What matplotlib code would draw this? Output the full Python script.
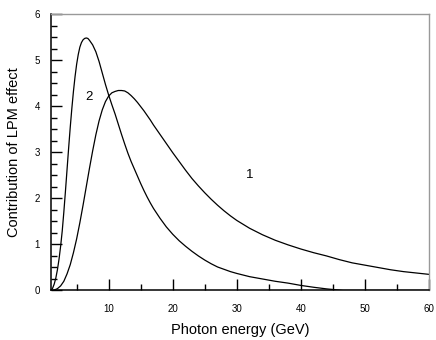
import matplotlib
matplotlib.use("Agg")
import matplotlib.pyplot as plt
from matplotlib.ticker import MultipleLocator

plt.rcParams['font.family'] = ['Liberation Sans', 'DejaVu Sans']

# Curve 1 (broad peak)
x1 = [1.0, 1.5, 2.0, 2.5, 3.0, 3.5, 4.0, 4.5, 5.0, 5.5, 6.0, 6.5, 7.0, 7.5, 8.0,
      8.5, 9.0, 9.5, 10.0, 10.5, 11.0, 11.5, 12.0, 12.5, 13.0, 13.5, 14.0, 14.5,
      15.0, 15.5, 16.0, 16.5, 17.0, 17.5, 18.0, 18.5, 19.0, 19.5, 20.0, 21.0,
      22.0, 23.0, 24.0, 25.0, 26.0, 27.0, 28.0, 29.0, 30.0, 32.0, 34.0, 36.0,
      38.0, 40.0, 42.0, 44.0, 46.0, 48.0, 50.0, 52.0, 54.0, 56.0, 58.0, 60.0]
y1 = [0.0, 0.01, 0.04, 0.10, 0.20, 0.36, 0.56, 0.82, 1.12, 1.47, 1.85, 2.25,
      2.65, 3.03, 3.38, 3.68, 3.92, 4.10, 4.22, 4.29, 4.32, 4.34, 4.34, 4.33,
      4.29, 4.23, 4.16, 4.08, 3.99, 3.90, 3.80, 3.70, 3.59, 3.49, 3.39, 3.29,
      3.19, 3.09, 2.99, 2.80, 2.61, 2.43, 2.27, 2.12, 1.98, 1.85, 1.73, 1.62,
      1.52, 1.35, 1.21, 1.09, 0.99, 0.90, 0.82, 0.75, 0.67, 0.60, 0.55, 0.50,
      0.45, 0.41, 0.38, 0.35]

# Curve 2 (sharp peak)
x2 = [1.0, 1.25, 1.5, 1.75, 2.0, 2.25, 2.5, 2.75, 3.0, 3.25, 3.5, 3.75, 4.0,
      4.25, 4.5, 4.75, 5.0, 5.25, 5.5, 5.75, 6.0, 6.25, 6.5, 6.75, 7.0, 7.5,
      8.0, 8.5, 9.0, 9.5, 10.0, 10.5, 11.0, 11.5, 12.0, 12.5, 13.0, 13.5, 14.0,
      14.5, 15.0, 15.5, 16.0, 16.5, 17.0, 18.0, 19.0, 20.0, 21.0, 22.0, 23.0,
      24.0, 25.0, 26.0, 27.0, 28.0, 29.0, 30.0, 32.0, 34.0, 36.0, 38.0, 40.0,
      42.0, 44.0, 46.6, 60.0]
y2 = [0.0, 0.05, 0.14, 0.27, 0.45, 0.68, 0.96, 1.29, 1.70, 2.15, 2.62, 3.09,
      3.54, 3.95, 4.32, 4.64, 4.91, 5.12, 5.28, 5.38, 5.44, 5.47, 5.48, 5.47,
      5.43, 5.33, 5.18, 4.97, 4.72, 4.47, 4.24, 4.03, 3.83, 3.61, 3.39, 3.18,
      2.98, 2.80, 2.64, 2.48, 2.32, 2.17, 2.03, 1.90, 1.78, 1.57, 1.38, 1.22,
      1.08, 0.96, 0.85, 0.75, 0.66, 0.58, 0.51, 0.46, 0.41, 0.37, 0.30, 0.25,
      0.20, 0.16, 0.11, 0.07, 0.035, 0.0, 0.0]

labels = ["1", "2"]
label_pos = [(32.0, 2.5), (7.0, 4.2)]

fig = plt.figure(figsize=(4.36, 3.40), dpi=100)
ax = fig.add_axes([0.117, 0.1456, 0.867, 0.8132])

ax.plot(x1, y1, color='black', lw=0.9, solid_joinstyle='round')
ax.plot(x2, y2, color='black', lw=0.9, solid_joinstyle='round')

for t, (lx, ly) in zip(labels, label_pos):
    ax.text(lx, ly, t, fontsize=9.5, ha='center', va='center')

ax.set_xlim(1, 60)
ax.set_ylim(0, 6)
ax.xaxis.set_major_locator(MultipleLocator(10))
ax.xaxis.set_minor_locator(MultipleLocator(5))
ax.yaxis.set_major_locator(MultipleLocator(1))
ax.yaxis.set_minor_locator(MultipleLocator(0.25))

ax.tick_params(which='both', direction='in', top=False, right=False, colors='black', width=1.0)
ax.tick_params(which='major', length=8)
ax.tick_params(which='minor', length=4.3)
ax.tick_params(axis='x', which='major', labelsize=7, pad=10)
ax.tick_params(axis='y', which='major', labelsize=7, pad=8)

for s in ['left', 'bottom']:
    ax.spines[s].set_color('black')
    ax.spines[s].set_linewidth(1.1)
for s in ['top', 'right']:
    ax.spines[s].set_color('#999999')
    ax.spines[s].set_linewidth(1.0)

ax.set_xlabel('Photon energy (GeV)', fontsize=10.5, labelpad=6)
ax.set_ylabel('Contribution of LPM effect', fontsize=10.5, labelpad=10)

fig.savefig('out.png', dpi=100)
